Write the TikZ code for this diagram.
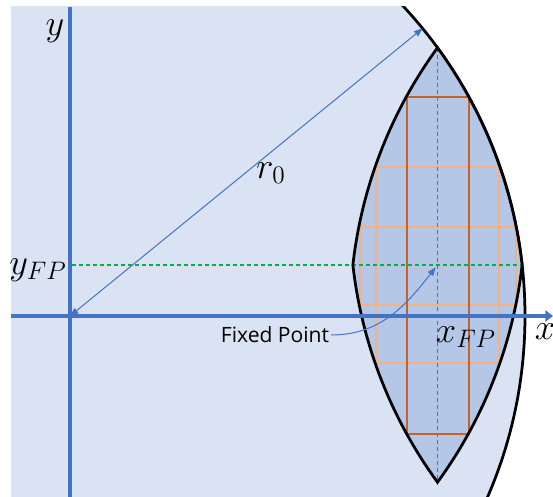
\documentclass[tikz,border=0pt]{standalone}
\usepackage{fontspec}
\setsansfont{Open Sans}
\usetikzlibrary{arrows.meta}
\definecolor{bgblue}{HTML}{DAE3F3}
\definecolor{lensblue}{HTML}{B4C7E7}
\definecolor{axisblue}{HTML}{4472C4}
\definecolor{darkorange}{HTML}{C5622A}
\definecolor{lightorange}{HTML}{F4B183}
\definecolor{guidegreen}{HTML}{00B050}
\begin{document}
\begin{tikzpicture}[
  x=0.2mm, y=0.2mm,
  edge/.style={draw=black, line width=0.55mm},
  axis/.style={draw=axisblue, line width=0.8mm},
  guide/.style={draw=guidegreen, line width=0.3mm, dash pattern=on 0.8mm off 0.6mm},
  cell/.style={line width=0.4mm},
  mathlab/.style={inner sep=0pt, font=\fontsize{20}{23}\selectfont},
  pointer/.style={draw=axisblue, line width=0.2mm}
]
\useasboundingbox (-70,-181) rectangle (483,316);
% ---- origin, fixed point and lens corners ----
\coordinate (O) at (0,0);
\coordinate (FP) at (367.5,51);
\coordinate (T) at (367.5,268.27);
\coordinate (rtip) at (39.2:455);

% ---- region inside r0 ----
\begin{scope}
  \clip (-59,-181) rectangle (483,309);
  \fill[bgblue] (O) circle[radius=455];
  \draw[edge] (O) circle[radius=455];
\end{scope}

% ---- lens (four arcs of radius r0) ----
\fill[lensblue] (T) arc[start angle=36.13, end angle=6.44, radius=455]
  arc[start angle=-6.44, end angle=-36.13, radius=455]
  arc[start angle=216.13, end angle=186.44, radius=455]
  arc[start angle=173.56, end angle=143.87, radius=455] -- cycle;

% ---- cells ----
\draw[cell, lightorange] (306,-47) rectangle (429,149);
\draw[cell, lightorange] (290,11) rectangle (446,89);
\draw[cell, darkorange] (337,-118) rectangle (399,219);

% ---- guides through the fixed point ----
\draw[guide] (2,51) -- (455,51);
\draw[guide] (T) -- (367.5,-169);

\draw[edge] (T) arc[start angle=36.13, end angle=6.44, radius=455]
  arc[start angle=-6.44, end angle=-36.13, radius=455]
  arc[start angle=216.13, end angle=186.44, radius=455]
  arc[start angle=173.56, end angle=143.87, radius=455] -- cycle;

% ---- axes ----
\draw[axis] (0,309) -- (0,-181);
\draw[axis, -{Triangle[length=1.5mm, width=2.2mm]}] (-59,0) -- (483,0);

\draw[pointer, {Triangle[length=1.7mm, width=1.3mm]}-{Triangle[length=1.7mm, width=1.3mm]}] (O) -- (rtip);

% ---- labels ----
\node[mathlab] (ylab) at (-15,285) {$y$};
\node[mathlab] (yfp) at (-32,46) {$y_{FP}$};
\node[mathlab] (rlab) at (201,143) {$r_0$};
\node[mathlab] (xfp) at (396,-21) {$x_{FP}$};
\node[mathlab] (xlab) at (475,-16) {$x$};
\node[inner sep=1pt, font=\sffamily\fontsize{12}{14}\selectfont] (fixlab) at (205,-19) {Fixed Point};

\draw[pointer, -{Triangle[length=1.7mm, width=1.3mm]}, shorten >=0.6mm]
  (fixlab.east) to[out=0, in=232] (FP);
\end{tikzpicture}
\end{document}
